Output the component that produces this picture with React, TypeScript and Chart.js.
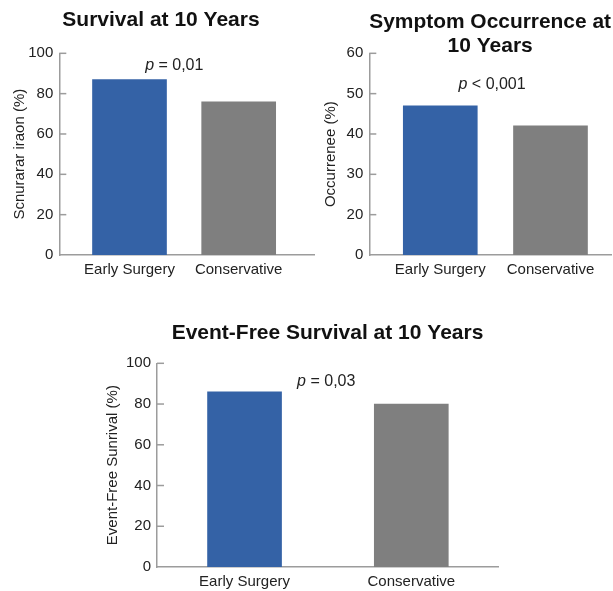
import React, { useEffect, useRef } from 'react';
import { Chart, registerables } from 'chart.js';

Chart.register(...registerables);

// ---------- data ----------
const categories = ['Early Surgery', 'Conservative'];

const survivalValues = [87, 76];
const symptomValues = [47, 42];
const eventFreeValues = [86, 80];

const survivalTicks = [0, 20, 40, 60, 80, 100];
const survivalTickLabels = ['0', '20', '40', '60', '80', '100'];
// truncated axis: the lowest tick is labelled "0"
const symptomTicks = [10, 20, 30, 40, 50, 60];
const symptomTickLabels = ['0', '20', '30', '40', '50', '60'];
const eventFreeTicks = [0, 20, 40, 60, 80, 100];
const eventFreeTickLabels = ['0', '20', '40', '60', '80', '100'];

const panelTitles = [
  'Survival at 10 Years',
  ['Symptom Occurrence at', '10 Years'],
  'Event-Free Survival at 10 Years',
];
const yAxisTitles = ['Scnurarar iraon (%)', 'Occurrenee (%)', 'Event-Free Sunrival (%)'];
const pLabels = ['= 0,01', '< 0,001', '= 0,03'];

const barColors = ['#3462A6', '#7F7F7F'];
const AXIS = '#9c9c9c';
const FONT = "'Liberation Sans', Arial, Helvetica, sans-serif";

// ---------- plugin: inward tick marks + p-value note ----------
const decorPlugin = {
  id: 'decor',
  afterDraw(chart: any, _args: any, opts: any) {
    const { ctx, scales } = chart;
    const x = scales.x;
    const y = scales.y;
    ctx.save();
    ctx.strokeStyle = AXIS;
    ctx.lineWidth = 1.5;
    y.ticks.forEach((t: any) => {
      if (t.value === y.min) return;
      const py = y.getPixelForValue(t.value);
      ctx.beginPath();
      ctx.moveTo(y.right, py);
      ctx.lineTo(y.right + 7, py);
      ctx.stroke();
    });
    if (opts && opts.text) {
      const cx = x.getPixelForValue(opts.px);
      const cy = y.getPixelForValue(opts.py);
      ctx.fillStyle = '#222';
      ctx.textBaseline = 'middle';
      ctx.textAlign = 'left';
      ctx.font = `italic 16px ${FONT}`;
      const wp = ctx.measureText('p').width;
      ctx.font = `16px ${FONT}`;
      const rest = ' ' + opts.text;
      const wr = ctx.measureText(rest).width;
      const sx = cx - (wp + wr) / 2;
      ctx.font = `italic 16px ${FONT}`;
      ctx.fillText('p', sx, cy);
      ctx.font = `16px ${FONT}`;
      ctx.fillText(rest, sx + wp, cy);
    }
    ctx.restore();
  },
};

type PanelSpec = {
  values: number[];
  yTicks: number[];
  yTickLabels: string[];
  yMin: number;
  yMax: number;
  title: string | string[];
  titleFullSize: boolean;
  titlePadding: { top: number; bottom: number };
  titleLineHeight: number;
  yTitle: string;
  yTitlePad: number;
  xMin: number;
  xMax: number;
  yWidth: number;
  xHeight: number;
  padding: { left: number; right: number; top: number; bottom: number };
  pText: string;
  pX: number;
  pY: number;
};

function makeConfig(s: PanelSpec): any {
  return {
    type: 'bar',
    data: {
      datasets: [
        {
          data: s.values.map((v, i) => ({ x: i, y: v })),
          backgroundColor: barColors,
          borderWidth: 0,
          barThickness: 74,
        },
      ],
    },
    options: {
      animation: false,
      responsive: false,
      devicePixelRatio: 1,
      layout: { padding: s.padding },
      plugins: {
        legend: { display: false },
        tooltip: { enabled: false },
        title: {
          display: true,
          text: s.title,
          fullSize: s.titleFullSize,
          color: '#111',
          font: { family: FONT, size: 21, weight: 'bold', lineHeight: s.titleLineHeight },
          padding: s.titlePadding,
        },
        decor: { text: s.pText, px: s.pX, py: s.pY },
      },
      scales: {
        x: {
          type: 'linear',
          offset: false,
          min: s.xMin,
          max: s.xMax,
          afterBuildTicks: (scale: any) => {
            scale.ticks = categories.map((_, i) => ({ value: i }));
          },
          afterFit: (scale: any) => {
            scale.height = s.xHeight;
          },
          grid: { display: false, drawTicks: false },
          border: { display: true, color: AXIS, width: 1.5 },
          ticks: {
            autoSkip: false,
            maxRotation: 0,
            padding: 6,
            color: '#222',
            font: { family: FONT, size: 15 },
            callback: (v: any) => categories[v] ?? '',
          },
        },
        y: {
          type: 'linear',
          min: s.yMin,
          max: s.yMax,
          afterBuildTicks: (scale: any) => {
            scale.ticks = s.yTicks.map((v) => ({ value: v }));
          },
          afterFit: (scale: any) => {
            scale.width = s.yWidth;
          },
          grid: { display: false, drawTicks: false },
          border: { display: true, color: AXIS, width: 1.5 },
          ticks: {
            padding: 6,
            color: '#222',
            font: { family: FONT, size: 15 },
            callback: (v: any) => {
              const i = s.yTicks.indexOf(v);
              return i >= 0 ? s.yTickLabels[i] : '';
            },
          },
          title: {
            display: true,
            text: s.yTitle,
            color: '#222',
            font: { family: FONT, size: 15, lineHeight: 1.2 },
            padding: { top: s.yTitlePad, bottom: 0 },
          },
        },
      },
    },
    plugins: [decorPlugin],
  };
}

function Panel({ spec, left, top, width, height }: { spec: PanelSpec; left: number; top: number; width: number; height: number }) {
  const ref = useRef<HTMLCanvasElement>(null);
  useEffect(() => {
    if (!ref.current) return;
    const chart = new Chart(ref.current, makeConfig(spec));
    return () => chart.destroy();
  }, []);
  return (
    <div style={{ position: 'absolute', left, top, width, height }}>
      <canvas ref={ref} width={width} height={height} style={{ width, height, display: 'block' }} />
    </div>
  );
}

const survivalSpec: PanelSpec = {
  values: survivalValues,
  yTicks: survivalTicks,
  yTickLabels: survivalTickLabels,
  yMin: 0,
  yMax: 100,
  title: panelTitles[0],
  titleFullSize: true,
  titlePadding: { top: 7.9, bottom: 20.2 },
  titleLineHeight: 1.2,
  yTitle: yAxisTitles[0],
  yTitlePad: 4,
  xMin: -0.643,
  xMax: 1.699,
  yWidth: 52.3,
  xHeight: 30,
  padding: { left: 7, right: 0, top: 0, bottom: 0 },
  pText: pLabels[0],
  pX: 0.41,
  pY: 94,
};

const symptomSpec: PanelSpec = {
  values: symptomValues,
  yTicks: symptomTicks,
  yTickLabels: symptomTickLabels,
  yMin: 10,
  yMax: 60,
  title: panelTitles[1],
  titleFullSize: false,
  titlePadding: { top: 10.1, bottom: -5.1 },
  titleLineHeight: 1.15,
  yTitle: yAxisTitles[1],
  yTitlePad: 0,
  xMin: -0.644,
  xMax: 1.549,
  yWidth: 47.3,
  xHeight: 30,
  padding: { left: 7, right: 2, top: 0, bottom: 0 },
  pText: pLabels[1],
  pX: 0.47,
  pY: 52.3,
};

const eventFreeSpec: PanelSpec = {
  values: eventFreeValues,
  yTicks: eventFreeTicks,
  yTickLabels: eventFreeTickLabels,
  yMin: 0,
  yMax: 100,
  title: panelTitles[2],
  titleFullSize: false,
  titlePadding: { top: 20.4, bottom: 17.7 },
  titleLineHeight: 1.2,
  yTitle: yAxisTitles[2],
  yTitlePad: 0,
  xMin: -0.525,
  xMax: 1.52,
  yWidth: 53,
  xHeight: 24,
  padding: { left: 14, right: 12, top: 0, bottom: 0 },
  pText: pLabels[2],
  pX: 0.49,
  pY: 90.8,
};

export default function App() {
  return (
    <div
      style={{
        position: 'absolute',
        left: 0,
        top: 0,
        width: 613,
        height: 591,
        overflow: 'hidden',
        background: '#fff',
      }}
    >
      <Panel spec={survivalSpec} left={0} top={0} width={315} height={285} />
      <Panel spec={symptomSpec} left={315} top={0} width={298} height={285} />
      <Panel spec={eventFreeSpec} left={90} top={300} width={420} height={291} />
    </div>
  );
}
